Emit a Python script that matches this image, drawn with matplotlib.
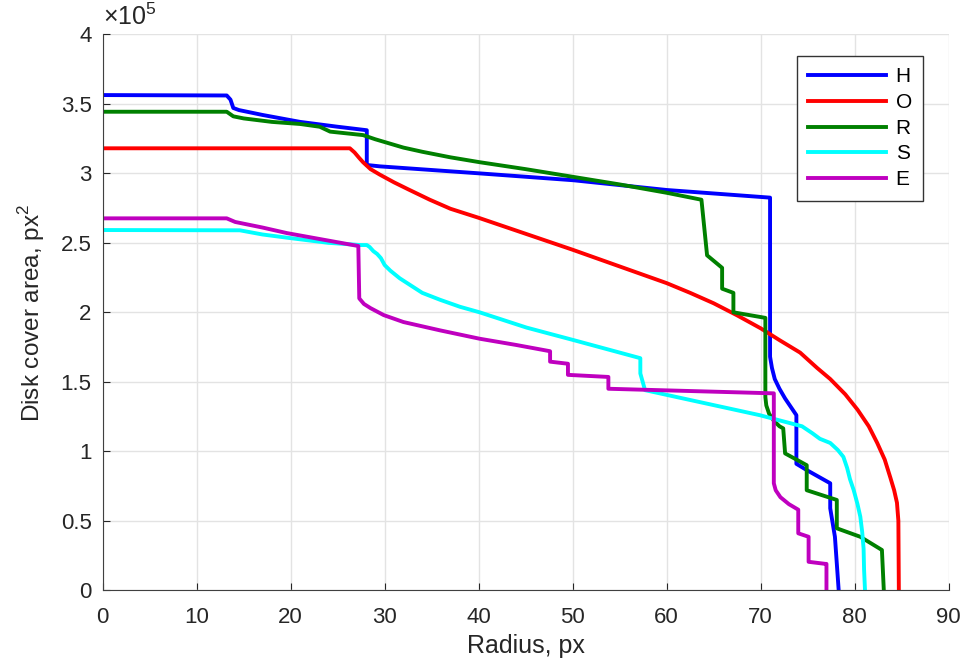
import numpy as np
import matplotlib
matplotlib.use("Agg")
import matplotlib.pyplot as plt
from matplotlib.ticker import FuncFormatter

plt.rcParams["font.family"] = ["Liberation Sans", "DejaVu Sans"]
plt.rcParams["mathtext.fontset"] = "custom"
plt.rcParams["mathtext.rm"] = "Liberation Sans"

SCALE = 1e5  # values below are in units of 1e5 px^2

h_x = [0, 13.2, 13.6, 13.9, 14.5, 17.0, 21.0, 25.0, 28.1, 28.1, 29.5, 40.0, 50.1, 60.0,
       71.0, 71.0, 71.2, 71.5, 72.0, 72.6, 73.2, 73.8, 73.8, 74.9, 77.4, 77.4, 77.9, 78.3]
h_y = [3.563, 3.56, 3.53, 3.47, 3.455, 3.42, 3.37, 3.335, 3.31, 3.06, 3.05, 3.0, 2.95, 2.88,
       2.825, 1.68, 1.60, 1.52, 1.45, 1.38, 1.32, 1.26, 0.91, 0.865, 0.77, 0.59, 0.385, 0.0]

o_x = [0, 26.3, 26.8, 27.3, 27.7, 28.5, 29.5, 31.0, 32.5, 34.8, 37.0, 40.0, 45.0, 50.0,
       55.0, 60.0, 62.5, 65.0, 67.5, 70.0, 72.0, 74.2, 76.0, 77.4, 79.0, 80.3, 81.5, 82.4,
       83.2, 83.8, 84.2, 84.5, 84.65, 84.7]
o_y = [3.18, 3.18, 3.15, 3.11, 3.08, 3.03, 2.99, 2.935, 2.885, 2.81, 2.745, 2.68, 2.565, 2.45,
       2.33, 2.21, 2.14, 2.065, 1.978, 1.885, 1.80, 1.71, 1.60, 1.52, 1.41, 1.30, 1.18, 1.06,
       0.94, 0.81, 0.72, 0.63, 0.5, 0.0]

r_x = [0, 13.2, 13.9, 15.0, 18.0, 21.0, 23.1, 24.2, 27.7, 29.0, 30.5, 32.0, 34.0, 37.0,
       40.1, 45.0, 50.0, 55.0, 60.0, 63.7, 64.3, 65.9, 65.9, 67.1, 67.1, 70.5, 70.5, 70.6,
       70.9, 71.4, 72.0, 72.4, 72.6, 74.9, 74.9, 78.1, 78.1, 80.6, 82.9, 83.1]
r_y = [3.443, 3.443, 3.41, 3.395, 3.37, 3.355, 3.335, 3.30, 3.275, 3.245, 3.215, 3.185, 3.155,
       3.115, 3.08, 3.03, 2.975, 2.92, 2.86, 2.81, 2.41, 2.32, 2.17, 2.14, 2.0, 1.96, 1.39,
       1.33, 1.27, 1.22, 1.18, 1.165, 0.985, 0.90, 0.72, 0.65, 0.446, 0.385, 0.29, 0.0]

s_x = [0, 14.6, 17.0, 19.6, 24.0, 27.4, 28.1, 28.4, 28.8, 29.2, 29.6, 30.0, 30.6, 31.6,
       32.4, 34.0, 35.9, 38.0, 40.1, 45.1, 50.1, 57.2, 57.2, 57.7, 69.9, 74.4, 75.5, 76.3,
       77.4, 78.2, 78.8, 79.2, 79.5, 79.9, 80.3, 80.6, 80.8, 80.95, 81.0, 81.1]
s_y = [2.592, 2.59, 2.56, 2.537, 2.50, 2.484, 2.484, 2.47, 2.44, 2.42, 2.39, 2.34, 2.30, 2.245,
       2.21, 2.14, 2.09, 2.04, 2.0, 1.89, 1.80, 1.67, 1.56, 1.44, 1.26, 1.18, 1.13, 1.09,
       1.06, 1.01, 0.96, 0.88, 0.80, 0.72, 0.62, 0.53, 0.42, 0.30, 0.15, 0.0]

e_x = [0, 13.2, 14.1, 17.0, 19.6, 24.5, 27.2, 27.3, 27.8, 28.5, 29.9, 32.0, 35.9, 40.1,
       44.0, 47.6, 47.6, 49.5, 49.5, 53.8, 53.8, 71.4, 71.4, 71.6, 72.1, 73.0, 74.0, 74.0,
       75.1, 75.1, 76.9, 77.0, 77.0]
e_y = [2.676, 2.676, 2.65, 2.61, 2.57, 2.51, 2.477, 2.10, 2.06, 2.03, 1.98, 1.93, 1.87, 1.81,
       1.765, 1.72, 1.645, 1.63, 1.55, 1.535, 1.45, 1.417, 0.77, 0.72, 0.67, 0.62, 0.58, 0.41,
       0.385, 0.205, 0.19, 0.19, 0.0]

series = [("H", h_x, h_y, (0, 0, 1)),
          ("O", o_x, o_y, (1, 0, 0)),
          ("R", r_x, r_y, (0, 0.5, 0)),
          ("S", s_x, s_y, (0, 1, 1)),
          ("E", e_x, e_y, (0.75, 0, 0.75))]

txt = (0.15, 0.15, 0.15)

fig = plt.figure(figsize=(9.71, 6.6), dpi=100)
ax = fig.add_axes([0.1057, 0.1056, 0.8713, 0.8424])

for name, xs, ys, col in series:
    ax.plot(xs, np.array(ys) * SCALE, color=col, lw=2.8, label=name)

ax.set_xlim(0, 90)
ax.set_ylim(0, 4 * SCALE)
ax.set_xticks(np.arange(0, 91, 10))
ax.set_yticks(np.arange(0, 4.01, 0.5) * SCALE)
ax.yaxis.set_major_formatter(FuncFormatter(lambda v, _: f"{v / SCALE:g}"))
ax.grid(True, color=(0.89, 0.89, 0.89), lw=1.0)
ax.set_axisbelow(True)
for s in ["top", "right"]:
    ax.spines[s].set_visible(False)
for s in ["left", "bottom"]:
    ax.spines[s].set_color((0.25, 0.25, 0.25))
ax.tick_params(direction="in", length=5, labelsize=16, colors=txt)
ax.tick_params(axis="x", pad=12)
ax.tick_params(axis="y", pad=8)

ax.set_xlabel("Radius, px", fontsize=18, color=txt, labelpad=4)
ax.set_ylabel("Disk cover area, px$^2$", fontsize=17.5, color=txt, labelpad=10)
ax.text(0.0, 1.008, r"$\mathregular{\times10^5}$", transform=ax.transAxes, fontsize=18,
        ha="left", va="bottom", color=txt)

leg = ax.legend(loc="upper right", bbox_to_anchor=(0.970, 0.961), fontsize=15,
                handlelength=3.75, handletextpad=0.45, labelspacing=0.32,
                fancybox=False, framealpha=1, edgecolor=(0.2, 0.2, 0.2),
                borderpad=0.55, borderaxespad=0)
leg.get_frame().set_linewidth(1.0)

fig.savefig("out.png", dpi=100)
